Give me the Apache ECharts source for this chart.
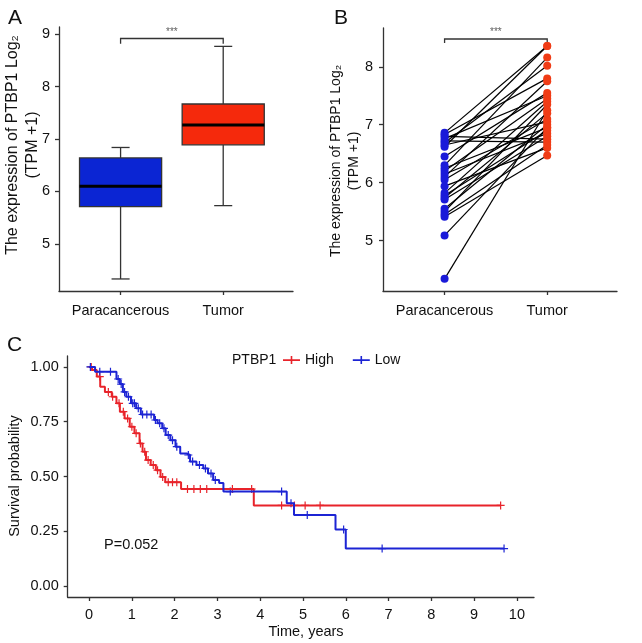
<!DOCTYPE html>
<html lang="en">
  <head>
    <meta charset="UTF-8" />
    <title>PTBP1 expression and survival</title>
    <script src="https://cdn.jsdelivr.net/npm/echarts@6.0.0/dist/echarts.min.js"></script>
    <style>
      body {
        margin: 0;
        padding: 0;
        background: #fff;
      }
      #main {
        width: 642px;
        height: 643px;
      }
    </style>
  </head>
  <body>
    <div id="main"></div>

    <script>
      // Groups on the x axis of panels A and B (placed at 1 and 2)
      const groups = ["Paracancerous", "Tumor"];

      // Panel A box stats: [x, lower whisker, Q1, median, Q3, upper whisker]
      const boxPara = [1, 4.33, 5.71, 6.1, 6.64, 6.84];
      const boxTumor = [2, 5.73, 6.89, 7.27, 7.67, 8.77];

      // Panel B paired samples (same order in both lists)
      const pairedPara = [
        6.86, 6.83, 6.8, 6.76, 6.72, 6.69, 6.65, 6.62, 6.45, 6.3, 6.25, 6.2,
        6.15, 6.1, 6.05, 5.94, 5.82, 5.78, 5.74, 5.71, 5.55, 5.5, 5.45, 5.41,
        5.09, 4.34,
      ];
      const pairedTumor = [
        8.36, 7.8, 6.75, 7.5, 6.7, 8.02, 7.05, 8.36, 7.55, 8.16, 6.95, 7.45,
        6.85, 7.75, 7.1, 6.6, 7.4, 6.9, 7.2, 6.8, 7.0, 7.35, 6.65, 6.47, 6.95,
        7.25,
      ];

      // Significance brackets [x, y] for A and B
      const bracketA = [[1, 8.82], [1, 8.92], [2, 8.92], [2, 8.82]];
      const bracketB = [[1, 8.41], [1, 8.48], [2, 8.48], [2, 8.41]];

      // Panel C Kaplan-Meier steps [time, survival]
      const kmHigh = [
        [0, 1], [0.07, 0.986], [0.18, 0.956], [0.26, 0.91], [0.37, 0.886],
        [0.53, 0.864], [0.64, 0.834], [0.72, 0.796], [0.83, 0.765],
        [0.95, 0.727], [1.06, 0.697], [1.18, 0.651], [1.25, 0.613],
        [1.33, 0.575], [1.44, 0.552], [1.56, 0.529], [1.67, 0.498],
        [1.78, 0.474], [2.15, 0.443], [3.85, 0.368], [9.62, 0.368],
      ];
      const kmLow = [
        [0, 1], [0.14, 0.978], [0.64, 0.945], [0.72, 0.922], [0.79, 0.886],
        [0.87, 0.864], [0.98, 0.834], [1.1, 0.811], [1.21, 0.783],
        [1.52, 0.758], [1.6, 0.743], [1.71, 0.72], [1.79, 0.689],
        [1.9, 0.666], [2.02, 0.636], [2.13, 0.605], [2.28, 0.598],
        [2.36, 0.568], [2.51, 0.552], [2.67, 0.537], [2.78, 0.514],
        [2.9, 0.484], [3.04, 0.47], [3.14, 0.431], [4.62, 0.378],
        [4.79, 0.324], [5.76, 0.258], [6.0, 0.171], [9.7, 0.171],
      ];
      // censored observations [time, survival]
      const censorHigh = [
        [0.05, 1], [0.25, 0.956], [0.45, 0.886], [0.55, 0.864], [0.7, 0.834],
        [0.8, 0.796], [0.9, 0.765], [1.0, 0.727], [1.1, 0.697], [1.2, 0.651],
        [1.3, 0.613], [1.38, 0.575], [1.5, 0.552], [1.6, 0.529],
        [1.72, 0.498], [1.85, 0.474], [1.95, 0.474], [2.05, 0.474],
        [2.3, 0.443], [2.45, 0.443], [2.6, 0.443], [2.75, 0.443],
        [3.35, 0.443], [3.8, 0.443], [4.5, 0.368], [4.8, 0.368],
        [5.05, 0.368], [5.4, 0.368], [9.62, 0.368],
      ];
      const censorLow = [
        [0.03, 1], [0.25, 0.978], [0.5, 0.978], [0.68, 0.945], [0.75, 0.922],
        [0.83, 0.886], [0.92, 0.864], [1.02, 0.834], [1.06, 0.834],
        [1.15, 0.811], [1.25, 0.783], [1.35, 0.783], [1.45, 0.783],
        [1.55, 0.758], [1.65, 0.743], [1.75, 0.72], [1.85, 0.689],
        [1.95, 0.666], [2.05, 0.636], [2.32, 0.598], [2.42, 0.568],
        [2.58, 0.552], [2.72, 0.537], [2.85, 0.514], [2.95, 0.484],
        [3.3, 0.431], [4.5, 0.431], [4.72, 0.378], [5.1, 0.324],
        [5.95, 0.258], [6.85, 0.171], [9.7, 0.171],
      ];

      // tick values
      const groupTicks = [1, 2];
      const yTicksA = [5, 6, 7, 8, 9];
      const yTicksB = [5, 6, 7, 8];
      const yTicksC = [0, 0.25, 0.5, 0.75, 1];
      const xTicksC = [0, 1, 2, 3, 4, 5, 6, 7, 8, 9, 10];
      const pValue = "P=0.052";

      const FONT = "'Liberation Sans', Arial, sans-serif";
      const AXIS = "#333";
      const BLUE = "#0b25d3";
      const RED = "#f5290c";
      const KM_RED = "#e8232a";
      const KM_BLUE = "#1c24d4";
      const PLUS = "path://M4,0h1.4v9.4h-1.4z M0,4h9.4v1.4h-9.4z";

      function valueAxis(gridIndex, min, max, ticks, formatter, margin) {
        return {
          type: "value",
          gridIndex: gridIndex,
          min: min,
          max: max,
          axisLine: {
            show: true,
            onZero: false,
            lineStyle: { color: AXIS, width: 1.3 },
          },
          axisTick: {
            show: true,
            length: 4,
            customValues: ticks,
            lineStyle: { color: AXIS, width: 1.3 },
          },
          axisLabel: {
            customValues: ticks,
            margin: margin,
            color: "#111",
            fontFamily: FONT,
            fontSize: 14.5,
            formatter: formatter,
          },
          splitLine: { show: false },
        };
      }

      const groupLabel = function (v) {
        return groups[Math.round(v) - 1];
      };
      const plain = function (v) {
        return String(v);
      };
      const twoDec = function (v) {
        return v.toFixed(2);
      };

      function bracketSeries(x, y, coords, topY) {
        return [
          {
            type: "lines",
            coordinateSystem: "cartesian2d",
            xAxisIndex: x,
            yAxisIndex: y,
            polyline: true,
            silent: true,
            lineStyle: { color: AXIS, width: 1.3, opacity: 1 },
            data: [{ coords: coords }],
          },
          {
            type: "scatter",
            xAxisIndex: x,
            yAxisIndex: y,
            symbolSize: 1,
            itemStyle: { color: "transparent" },
            label: {
              show: true,
              position: "top",
              distance: 1,
              formatter: "***",
              fontSize: 10,
              color: "#333",
              fontFamily: FONT,
            },
            data: [[1.5, topY]],
          },
        ];
      }

      function rotatedText(x, y, text, size, lineHeight) {
        return {
          type: "text",
          x: x,
          y: y,
          rotation: Math.PI / 2,
          style: {
            text: text,
            align: "center",
            verticalAlign: "middle",
            fill: "#111",
            font: size + "px " + FONT,
            lineHeight: lineHeight,
          },
        };
      }

      function plainText(x, y, text, size, align) {
        return {
          type: "text",
          x: x,
          y: y,
          style: {
            text: text,
            align: align || "left",
            verticalAlign: "middle",
            fill: "#111",
            font: size + "px " + FONT,
          },
        };
      }

      const myChart = echarts.init(document.getElementById("main"));

      const option = {
        animation: false,
        backgroundColor: "#fff",
        grid: [
          { left: 59, top: 27, width: 234, height: 264 },
          { left: 383, top: 28, width: 234, height: 263 },
          { left: 67.7, top: 356, width: 466.3, height: 241 },
        ],
        xAxis: [
          valueAxis(0, 0.4, 2.68, groupTicks, groupLabel, 12),
          valueAxis(1, 0.4, 2.68, groupTicks, groupLabel, 12),
          valueAxis(2, -0.5, 10.4, xTicksC, plain, 10),
        ],
        yAxis: [
          valueAxis(0, 4.1, 9.14, yTicksA, plain, 9),
          valueAxis(1, 4.13, 8.67, yTicksB, plain, 10),
          valueAxis(2, -0.05, 1.05, yTicksC, twoDec, 9),
        ],
        legend: {
          left: 278,
          top: 348,
          itemWidth: 17,
          itemHeight: 10,
          itemGap: 19,
          textStyle: { fontFamily: FONT, fontSize: 14, color: "#111" },
          data: [
            { name: "High", icon: "path://M0,4.3h17v1.6h-17z M7.7,1h1.6v8h-1.6z" },
            { name: "Low", icon: "path://M0,4.3h17v1.6h-17z M7.7,1h1.6v8h-1.6z" },
          ],
        },
        graphic: [
          plainText(8, 18, "A", 21),
          plainText(334, 18, "B", 21),
          plainText(7, 345, "C", 21),
          rotatedText(23, 145, "The expression of PTBP1 Log\u2082\n(TPM +1)", 16, 20),
          rotatedText(345, 161, "The expression of PTBP1 Log\u2082\n(TPM +1)", 14, 18),
          rotatedText(15, 476, "Survival probability", 14.5, 18),
          plainText(306, 632, "Time, years", 14.5, "center"),
          plainText(232, 360, "PTBP1", 14),
          plainText(104, 545, pValue, 14.5),
        ],
        series: [
          // A: boxplots
          {
            type: "custom",
            xAxisIndex: 0,
            yAxisIndex: 0,
            silent: true,
            encode: { x: 0, y: [1, 2, 3, 4, 5] },
            data: [boxPara, boxTumor],
            renderItem: function (params, api) {
              const x = api.value(0);
              const at = function (i) {
                return api.coord([x, api.value(i)]);
              };
              const lo = at(1), q1 = at(2), md = at(3), q3 = at(4), hi = at(5);
              const half = api.size([0.4, 0])[0];
              const cap = api.size([0.088, 0])[0];
              const cx = lo[0];
              const ln = { stroke: AXIS, lineWidth: 1.3 };
              return {
                type: "group",
                children: [
                  { type: "line", shape: { x1: cx, y1: hi[1], x2: cx, y2: q3[1] }, style: ln },
                  { type: "line", shape: { x1: cx, y1: q1[1], x2: cx, y2: lo[1] }, style: ln },
                  { type: "line", shape: { x1: cx - cap, y1: hi[1], x2: cx + cap, y2: hi[1] }, style: ln },
                  { type: "line", shape: { x1: cx - cap, y1: lo[1], x2: cx + cap, y2: lo[1] }, style: ln },
                  {
                    type: "rect",
                    shape: { x: cx - half, y: q3[1], width: half * 2, height: q1[1] - q3[1] },
                    style: { fill: params.dataIndex === 0 ? BLUE : RED, stroke: AXIS, lineWidth: 1.3 },
                  },
                  {
                    type: "line",
                    shape: { x1: cx - half, y1: md[1], x2: cx + half, y2: md[1] },
                    style: { stroke: "#000", lineWidth: 3 },
                  },
                ],
              };
            },
          },
          ...bracketSeries(0, 0, bracketA, 8.92),
          // B: paired lines and points
          {
            type: "lines",
            coordinateSystem: "cartesian2d",
            xAxisIndex: 1,
            yAxisIndex: 1,
            silent: true,
            lineStyle: { color: "#000", width: 1.2, opacity: 1 },
            data: pairedPara.map(function (v, i) {
              return { coords: [[1, v], [2, pairedTumor[i]]] };
            }),
          },
          {
            type: "scatter",
            xAxisIndex: 1,
            yAxisIndex: 1,
            symbolSize: 8,
            itemStyle: { color: "#1a1ad9", opacity: 1 },
            data: pairedPara.map(function (v) {
              return [1, v];
            }),
          },
          {
            type: "scatter",
            xAxisIndex: 1,
            yAxisIndex: 1,
            symbolSize: 8,
            itemStyle: { color: "#f03c16", opacity: 1 },
            data: pairedTumor.map(function (v) {
              return [2, v];
            }),
          },
          ...bracketSeries(1, 1, bracketB, 8.48),
          // C: Kaplan-Meier curves
          {
            name: "High",
            type: "line",
            xAxisIndex: 2,
            yAxisIndex: 2,
            step: "end",
            showSymbol: false,
            color: KM_RED,
            lineStyle: { color: KM_RED, width: 2 },
            data: kmHigh,
          },
          {
            name: "Low",
            type: "line",
            xAxisIndex: 2,
            yAxisIndex: 2,
            step: "end",
            showSymbol: false,
            color: KM_BLUE,
            lineStyle: { color: KM_BLUE, width: 2 },
            data: kmLow,
          },
          {
            name: "High censored",
            type: "scatter",
            xAxisIndex: 2,
            yAxisIndex: 2,
            symbol: PLUS,
            symbolSize: 8,
            itemStyle: { color: KM_RED, opacity: 1 },
            data: censorHigh,
          },
          {
            name: "Low censored",
            type: "scatter",
            xAxisIndex: 2,
            yAxisIndex: 2,
            symbol: PLUS,
            symbolSize: 8,
            itemStyle: { color: KM_BLUE, opacity: 1 },
            data: censorLow,
          },
        ],
      };

      myChart.setOption(option);
    </script>
  </body>
</html>
